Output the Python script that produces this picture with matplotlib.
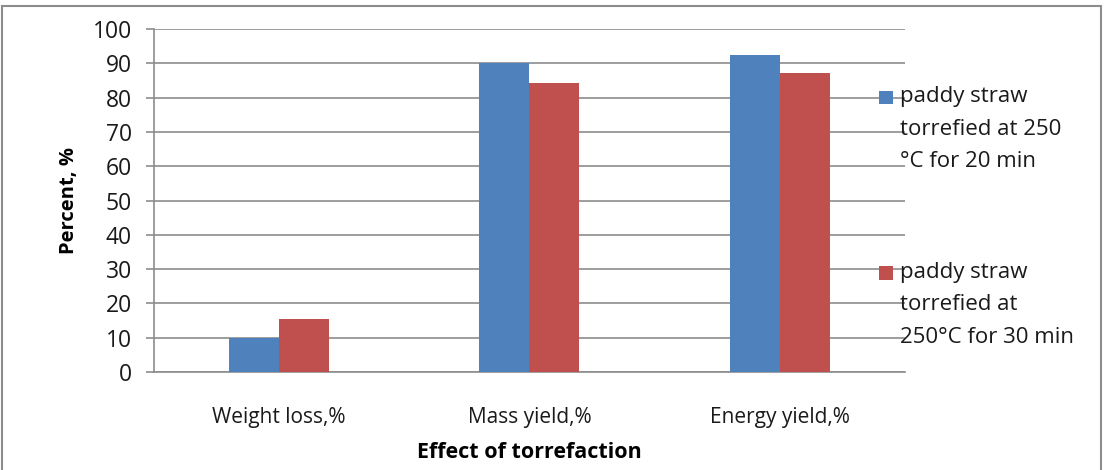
import matplotlib
matplotlib.use("Agg")
import matplotlib.pyplot as plt
from matplotlib.patches import Rectangle
import numpy as np

plt.rcParams["font.family"] = ["Open Sans", "DejaVu Sans"]

categories = ["Weight loss,%", "Mass yield,%", "Energy yield,%"]
series_names = ["paddy straw\ntorrefied at 250\n°C for 20 min",
                "paddy straw\ntorrefied at\n250°C for 30 min"]
min20 = [10.0, 90.0, 92.4]
min30 = [15.4, 84.2, 87.2]
colors = ["#4f81bd", "#c0504d"]

fig = plt.figure(figsize=(11.04, 4.70), dpi=100)
ax = fig.add_axes([0.1395, 0.2085, 0.680, 0.7298])

x = np.arange(len(categories))
w = 0.2
ax.bar(x - w / 2, min20, w, color=colors[0], zorder=3)
ax.bar(x + w / 2, min30, w, color=colors[1], zorder=3)

ax.set_xlim(-0.5, 2.5)
ax.set_ylim(0, 100)
ax.set_yticks(range(0, 101, 10))
ax.yaxis.grid(True, color="#8c8c8c", linewidth=1.2, zorder=0)
ax.set_xticks(x)
ax.set_xticklabels(categories, fontsize=15, color="#1a1a1a")
ax.tick_params(axis="x", length=0, pad=25)
ax.tick_params(axis="y", labelsize=16.5, length=6, width=1.2, color="#8c8c8c",
               labelcolor="#1a1a1a", pad=10)
for s in ["top", "right"]:
    ax.spines[s].set_visible(False)
for s in ["left", "bottom"]:
    ax.spines[s].set_color("#8c8c8c")
    ax.spines[s].set_linewidth(1.2)

ax.set_ylabel("Percent, %", fontsize=14.5, fontweight="bold", labelpad=10)
ax.set_xlabel("Effect of torrefaction", fontsize=15.5, fontweight="bold", labelpad=10)

# legend on the right, drawn by hand
leg_y = [0.793, 0.419]
for name, c, yy in zip(series_names, colors, leg_y):
    fig.patches.append(Rectangle((0.7965, yy - 0.014), 0.012, 0.028,
                                 transform=fig.transFigure, facecolor=c,
                                 edgecolor="none", zorder=5))
    fig.text(0.8155, yy + 0.024, name, fontsize=16, color="#1a1a1a",
             va="top", ha="left", linespacing=1.72)

# outer frame
fig.patches.append(Rectangle((0.002, -0.02), 0.995, 1.008,
                             transform=fig.transFigure, fill=False,
                             edgecolor="#8c8c8c", linewidth=1.5))

fig.savefig("out.png", dpi=100)
